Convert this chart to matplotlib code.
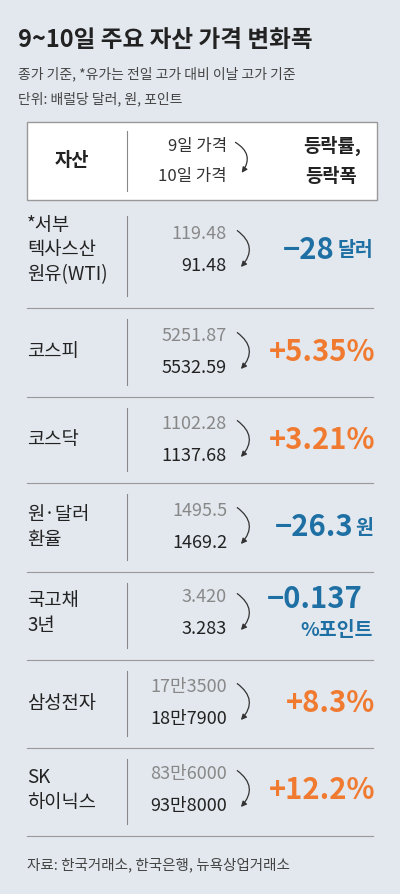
import matplotlib
matplotlib.use("Agg")
import matplotlib.pyplot as plt
from matplotlib.patches import FancyArrowPatch, Rectangle

plt.rcParams['font.family'] = ['Noto Sans CJK KR', 'DejaVu Sans']

assets = ["*서부\n텍사스산\n원유(WTI)", "코스피", "코스닥", "원·달러\n환율", "국고채\n3년", "삼성전자", "SK\n하이닉스"]
prev_price = ["119.48", "5251.87", "1102.28", "1495.5", "3.420", "17만3500", "83만6000"]
curr_price = ["91.48", "5532.59", "1137.68", "1469.2", "3.283", "18만7900", "93만8000"]
change_main = ["-28", "+5.35%", "+3.21%", "-26.3", "-0.137", "+8.3%", "+12.2%"]
change_unit = ["달러", "", "", "원", "%포인트", "", ""]

row_centers = [250, 352, 440, 527, 613, 703, 790]
separators = [308, 397, 483, 572, 660, 748, 836]

BG = "#e3e8ee"
BLUE = "#1e6fa3"
ORANGE = "#f07a30"

fig = plt.figure(figsize=(4.0, 8.94), dpi=100, facecolor=BG)
ax = fig.add_axes([0, 0, 1, 1])
ax.set_xlim(0, 400); ax.set_ylim(894, 0); ax.axis('off')
ax.set_facecolor(BG)

ax.text(18, 40, "9~10일 주요 자산 가격 변화폭", fontsize=17, fontweight='bold', color="#222", va='center')
ax.text(18, 74, "종가 기준, *유가는 전일 고가 대비 이날 고가 기준", fontsize=10, color="#444", va='center')
ax.text(18, 99, "단위: 배럴당 달러, 원, 포인트", fontsize=10, color="#444", va='center')

ax.add_patch(Rectangle((27, 122), 350, 78, facecolor='white', edgecolor='#999', lw=1))
ax.plot([127, 127], [131, 191], color='#888', lw=0.8)
ax.text(72, 161, "자산", fontsize=13.5, fontweight='bold', ha='center', va='center', color='#222')
ax.text(227, 146, "9일 가격", fontsize=12, ha='right', va='center', color='#333')
ax.text(227, 176, "10일 가격", fontsize=12, ha='right', va='center', color='#333')
ax.add_patch(FancyArrowPatch((233, 141), (240, 175), connectionstyle="arc3,rad=-0.6",
                             arrowstyle='-|>', mutation_scale=8, color='#333', lw=0.9))
ax.text(361, 146, "등락률,", fontsize=13.5, fontweight='bold', ha='right', va='center', color='#222')
ax.text(357, 176, "등락폭", fontsize=13.5, fontweight='bold', ha='right', va='center', color='#222')

for i, yc in enumerate(row_centers):
    ax.text(27, yc, assets[i], fontsize=13.5, ha='left', va='center', color='#222', linespacing=1.2)
    top = separators[i-1] if i > 0 else 205
    ax.plot([127, 127], [top + 11, separators[i] - 12], color='#888', lw=0.8)
    ax.text(227, yc - 16, prev_price[i], fontsize=13, ha='right', va='center', color='#888')
    ax.text(227, yc + 16, curr_price[i], fontsize=13, fontweight='medium', ha='right', va='center', color='#222')
    ax.add_patch(FancyArrowPatch((235, yc - 21), (239, yc + 19), connectionstyle="arc3,rad=-0.6",
                                 arrowstyle='-|>', mutation_scale=8, color='#333', lw=0.9))
    col = BLUE if change_main[i].startswith('-') else ORANGE
    main = change_main[i].replace('-', '−')
    if change_unit[i] == "%포인트":
        ax.text(315, yc - 14, main, fontsize=21, fontweight='heavy', ha='center', va='center', color=col)
        ax.text(373, yc + 18, change_unit[i], fontsize=14, fontweight='heavy', ha='right', va='center', color=col)
    elif change_unit[i]:
        ax.text(373, yc + 1, change_unit[i], fontsize=14, fontweight='heavy', ha='right', va='center', color=col)
        ax.text(372 - 14 * 1.35 * len(change_unit[i]), yc, main, fontsize=21, fontweight='heavy', ha='right', va='center', color=col)
    else:
        ax.text(375, yc, main, fontsize=21, fontweight='heavy', ha='right', va='center', color=col)
    ax.plot([27, 373], [separators[i], separators[i]], color='#999', lw=0.8)

ax.text(27, 865, "자료: 한국거래소, 한국은행, 뉴욕상업거래소", fontsize=10.5, color='#444', va='center')

fig.savefig("out.png", dpi=100, facecolor=BG)
